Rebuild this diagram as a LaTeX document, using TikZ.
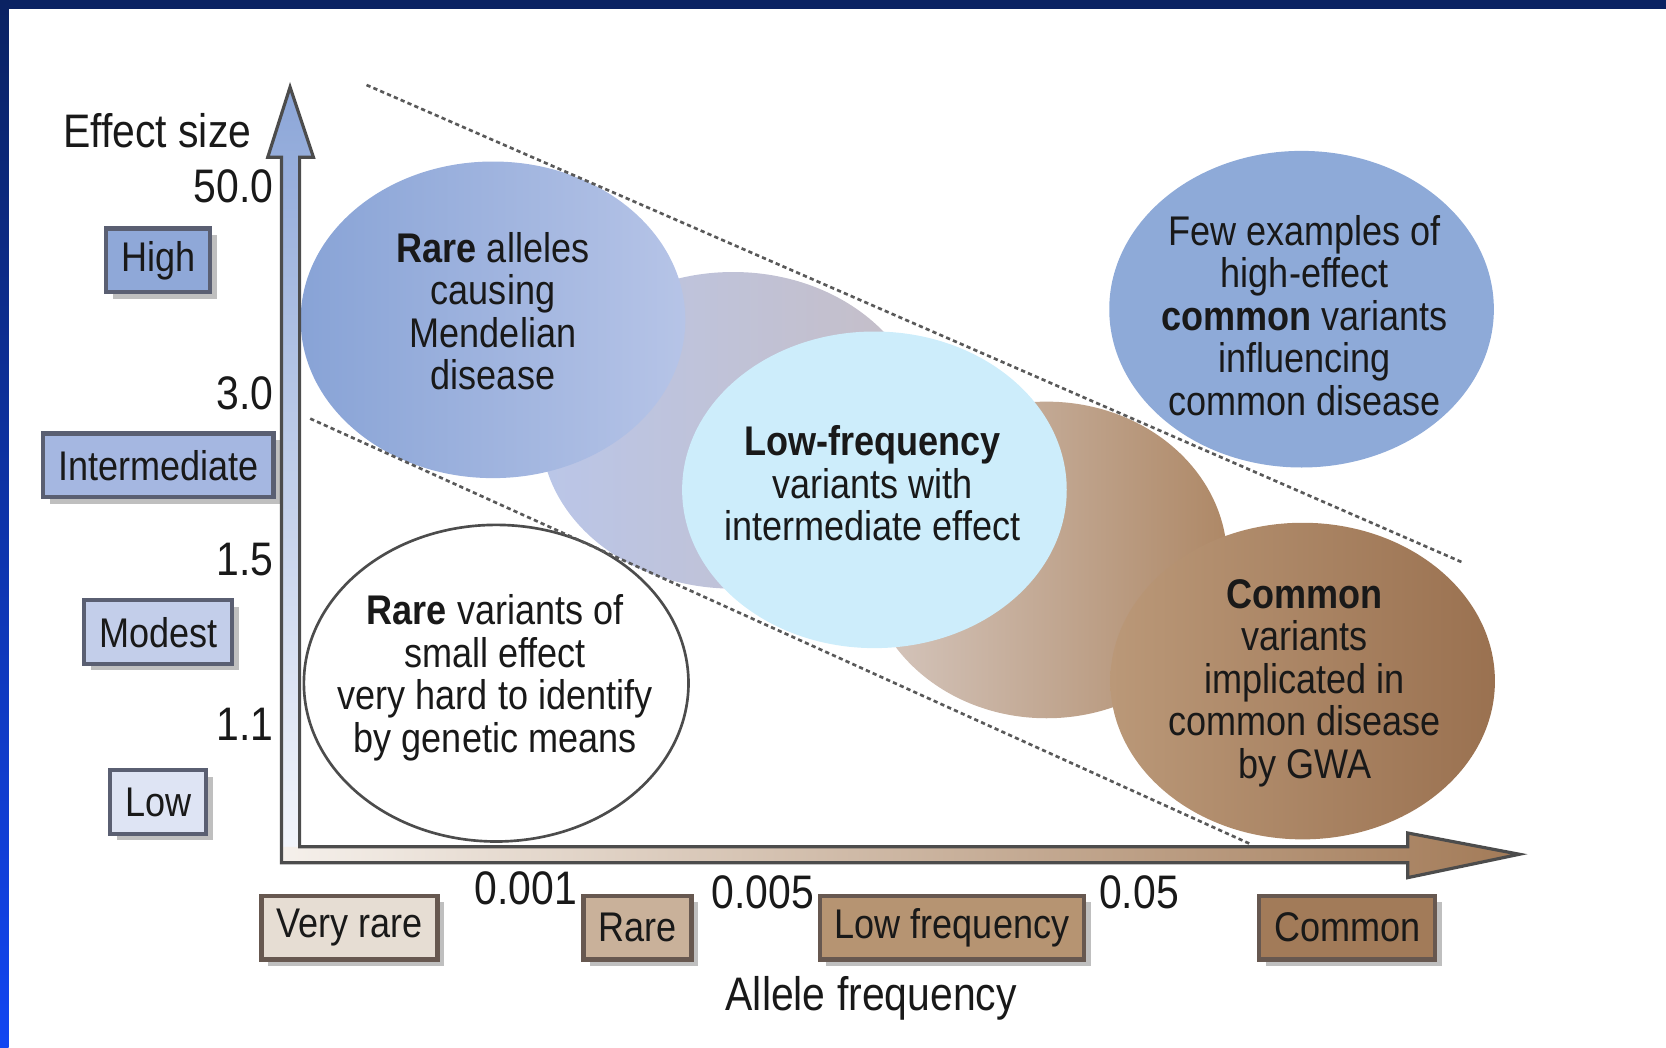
\documentclass[tikz,border=0pt]{standalone}
\usepackage{fontspec}
\setmainfont{Liberation Sans}[FakeStretch=0.87]
\usetikzlibrary{shapes.geometric,shadows}

\definecolor{navy}{HTML}{0A2262}
\definecolor{brightblue}{HTML}{1246F2}
\definecolor{fewblue}{HTML}{8EAAD8}
\definecolor{mendelL}{HTML}{88A3D6}
\definecolor{mendelR}{HTML}{B6C4E7}
\definecolor{midL}{HTML}{BAC6E8}
\definecolor{midR}{HTML}{C6BEC6}
\definecolor{lowcyan}{HTML}{CDEDFB}
\definecolor{brownL}{HTML}{D6C8C0}
\definecolor{brownR}{HTML}{AE8866}
\definecolor{commonL}{HTML}{BA9878}
\definecolor{commonR}{HTML}{9A7150}
\definecolor{hiblue}{HTML}{8FA8D8}
\definecolor{interblue}{HTML}{A5B7E1}
\definecolor{modblue}{HTML}{C3CEEA}
\definecolor{lowblue}{HTML}{DEE4F4}
\definecolor{vrarebr}{HTML}{E6DDD3}
\definecolor{rarebr}{HTML}{C9B19A}
\definecolor{lowfrbr}{HTML}{B69472}
\definecolor{commonbr}{HTML}{A27B59}
\definecolor{bluedge}{HTML}{5A5F72}
\definecolor{brownedge}{HTML}{675850}
\definecolor{axblue}{HTML}{8CA6D8}
\definecolor{axpale}{HTML}{F4F6FB}
\definecolor{axpaleb}{HTML}{F5F0EB}
\definecolor{axbrown}{HTML}{A37B58}

\begin{document}
\begin{tikzpicture}[x=0.1mm, y=-0.1mm,
        txt/.style={font=\fontsize{11.1}{11.4}\selectfont, align=center, text=black!90},
        big/.style={font=\fontsize{12.6}{13}\selectfont, text=black!90},
        blob/.style={ellipse, minimum width=36.2mm, minimum height=29.8mm, inner sep=0pt},
        lvl/.style={rectangle, txt, line width=0.4mm, minimum height=6mm, inner xsep=1.4mm,
            drop shadow={shadow xshift=0.6mm, shadow yshift=-0.6mm, fill=black, opacity=0.25}},
        vbox/.style={lvl, draw=bluedge},
        hbox/.style={lvl, draw=brownedge},
        guide/.style={draw=black!65, line width=0.25mm, dash pattern=on 0.4mm off 0.3mm},
        axline/.style={draw=black!70, line width=0.3mm, line join=miter}]
        \useasboundingbox (0,0) rectangle (1568,986);
        % frame
        \fill[navy] (0,0) rectangle (1568,8);
        \shade[top color=navy, bottom color=brightblue] (0,0) rectangle (8,986);

        % bubbles
        \node[blob, left color=midL, right color=midR] (mid) at (690,405) {};
        \node[blob, minimum width=34mm, left color=brownL, right color=brownR] (tan) at (985,527) {};
        \node[blob, left color=mendelL, right color=mendelR] (mendel) at (464,301) {};
        \node[blob, left color=commonL, right color=commonR] (common) at (1226,641) {};
        \node[blob, fill=lowcyan] (lowfreq) at (823,461) {};
        \node[blob, fill=fewblue] (few) at (1225,291) {};
        \node[blob, fill=white, draw=black!70, line width=0.25mm] (small) at (467,643) {};

        \node[txt] (mendeltxt) at (464,293) {\textbf{Rare} alleles\\causing\\Mendelian\\disease};
        \node[txt] (commontxt) at (1228,643) {\textbf{Common}\\variants\\implicated in\\common disease\\by GWA};
        \node[txt] (lowfreqtxt) at (821,455) {\textbf{Low-frequency}\\variants with\\intermediate effect};
        \node[txt] (fewtxt) at (1228,297) {Few examples of\\high-effect\\\textbf{common} variants\\influencing\\common disease};
        \node[txt] (smalltxt) at (466,638) {\textbf{Rare} variants of\\small effect\\very hard to identify\\by genetic means};

        % dashed band
        \coordinate (up1) at (345,80);
        \coordinate (up2) at (1378,530);
        \coordinate (lo1) at (292,394);
        \coordinate (lo2) at (1176,794);
        \draw[guide] (up1) -- (up2);
        \draw[guide] (lo1) -- (lo2);

        % axes
        \shade[top color=axblue, bottom color=axpale] (265,812) -- (265,148) -- (252,148) -- (273,82)
            -- (295,148) -- (282,148) -- (282,812) -- cycle;
        \shade[left color=axpaleb, right color=axbrown] (265,797) -- (1325,797) -- (1325,784)
            -- (1430,804) -- (1325,826) -- (1325,812) -- (265,812) -- cycle;
        \draw[axline] (265,812) -- (265,148) -- (252,148) -- (273,82) -- (295,148) -- (282,148)
            -- (282,797) -- (1325,797) -- (1325,784) -- (1430,804) -- (1325,826) -- (1325,812) -- cycle;

        \node[big] (ylab) at (148,123) {Effect size};
        \node[big] (xlab) at (820,940) {Allele frequency};

        % y ticks and levels
        \node[big, anchor=east, inner sep=0pt] (t50) at (258,175) {50.0};
        \node[big, anchor=east, inner sep=0pt] (t3) at (258,370) {3.0};
        \node[big, anchor=east, inner sep=0pt] (t15) at (258,527) {1.5};
        \node[big, anchor=east, inner sep=0pt] (t11) at (258,682) {1.1};
        \node[vbox, fill=hiblue] (high) at (149,245) {High};
        \node[vbox, fill=interblue] (inter) at (149,438) {Intermediate};
        \node[vbox, fill=modblue] (modest) at (149,595) {Modest};
        \node[vbox, fill=lowblue] (low) at (149,755) {Low};

        % x ticks and classes
        \node[big] (f1) at (495,836) {0.001};
        \node[big] (f2) at (718,840) {0.005};
        \node[big] (f3) at (1072,840) {0.05};
        \node[hbox, fill=vrarebr] (vrare) at (329,873) {Very rare};
        \node[hbox, fill=rarebr] (rare) at (600,873) {Rare};
        \node[hbox, fill=lowfrbr] (lowfr) at (896,873) {Low frequency};
        \node[hbox, fill=commonbr] (comm) at (1268,873) {Common};
\end{tikzpicture}
\end{document}
